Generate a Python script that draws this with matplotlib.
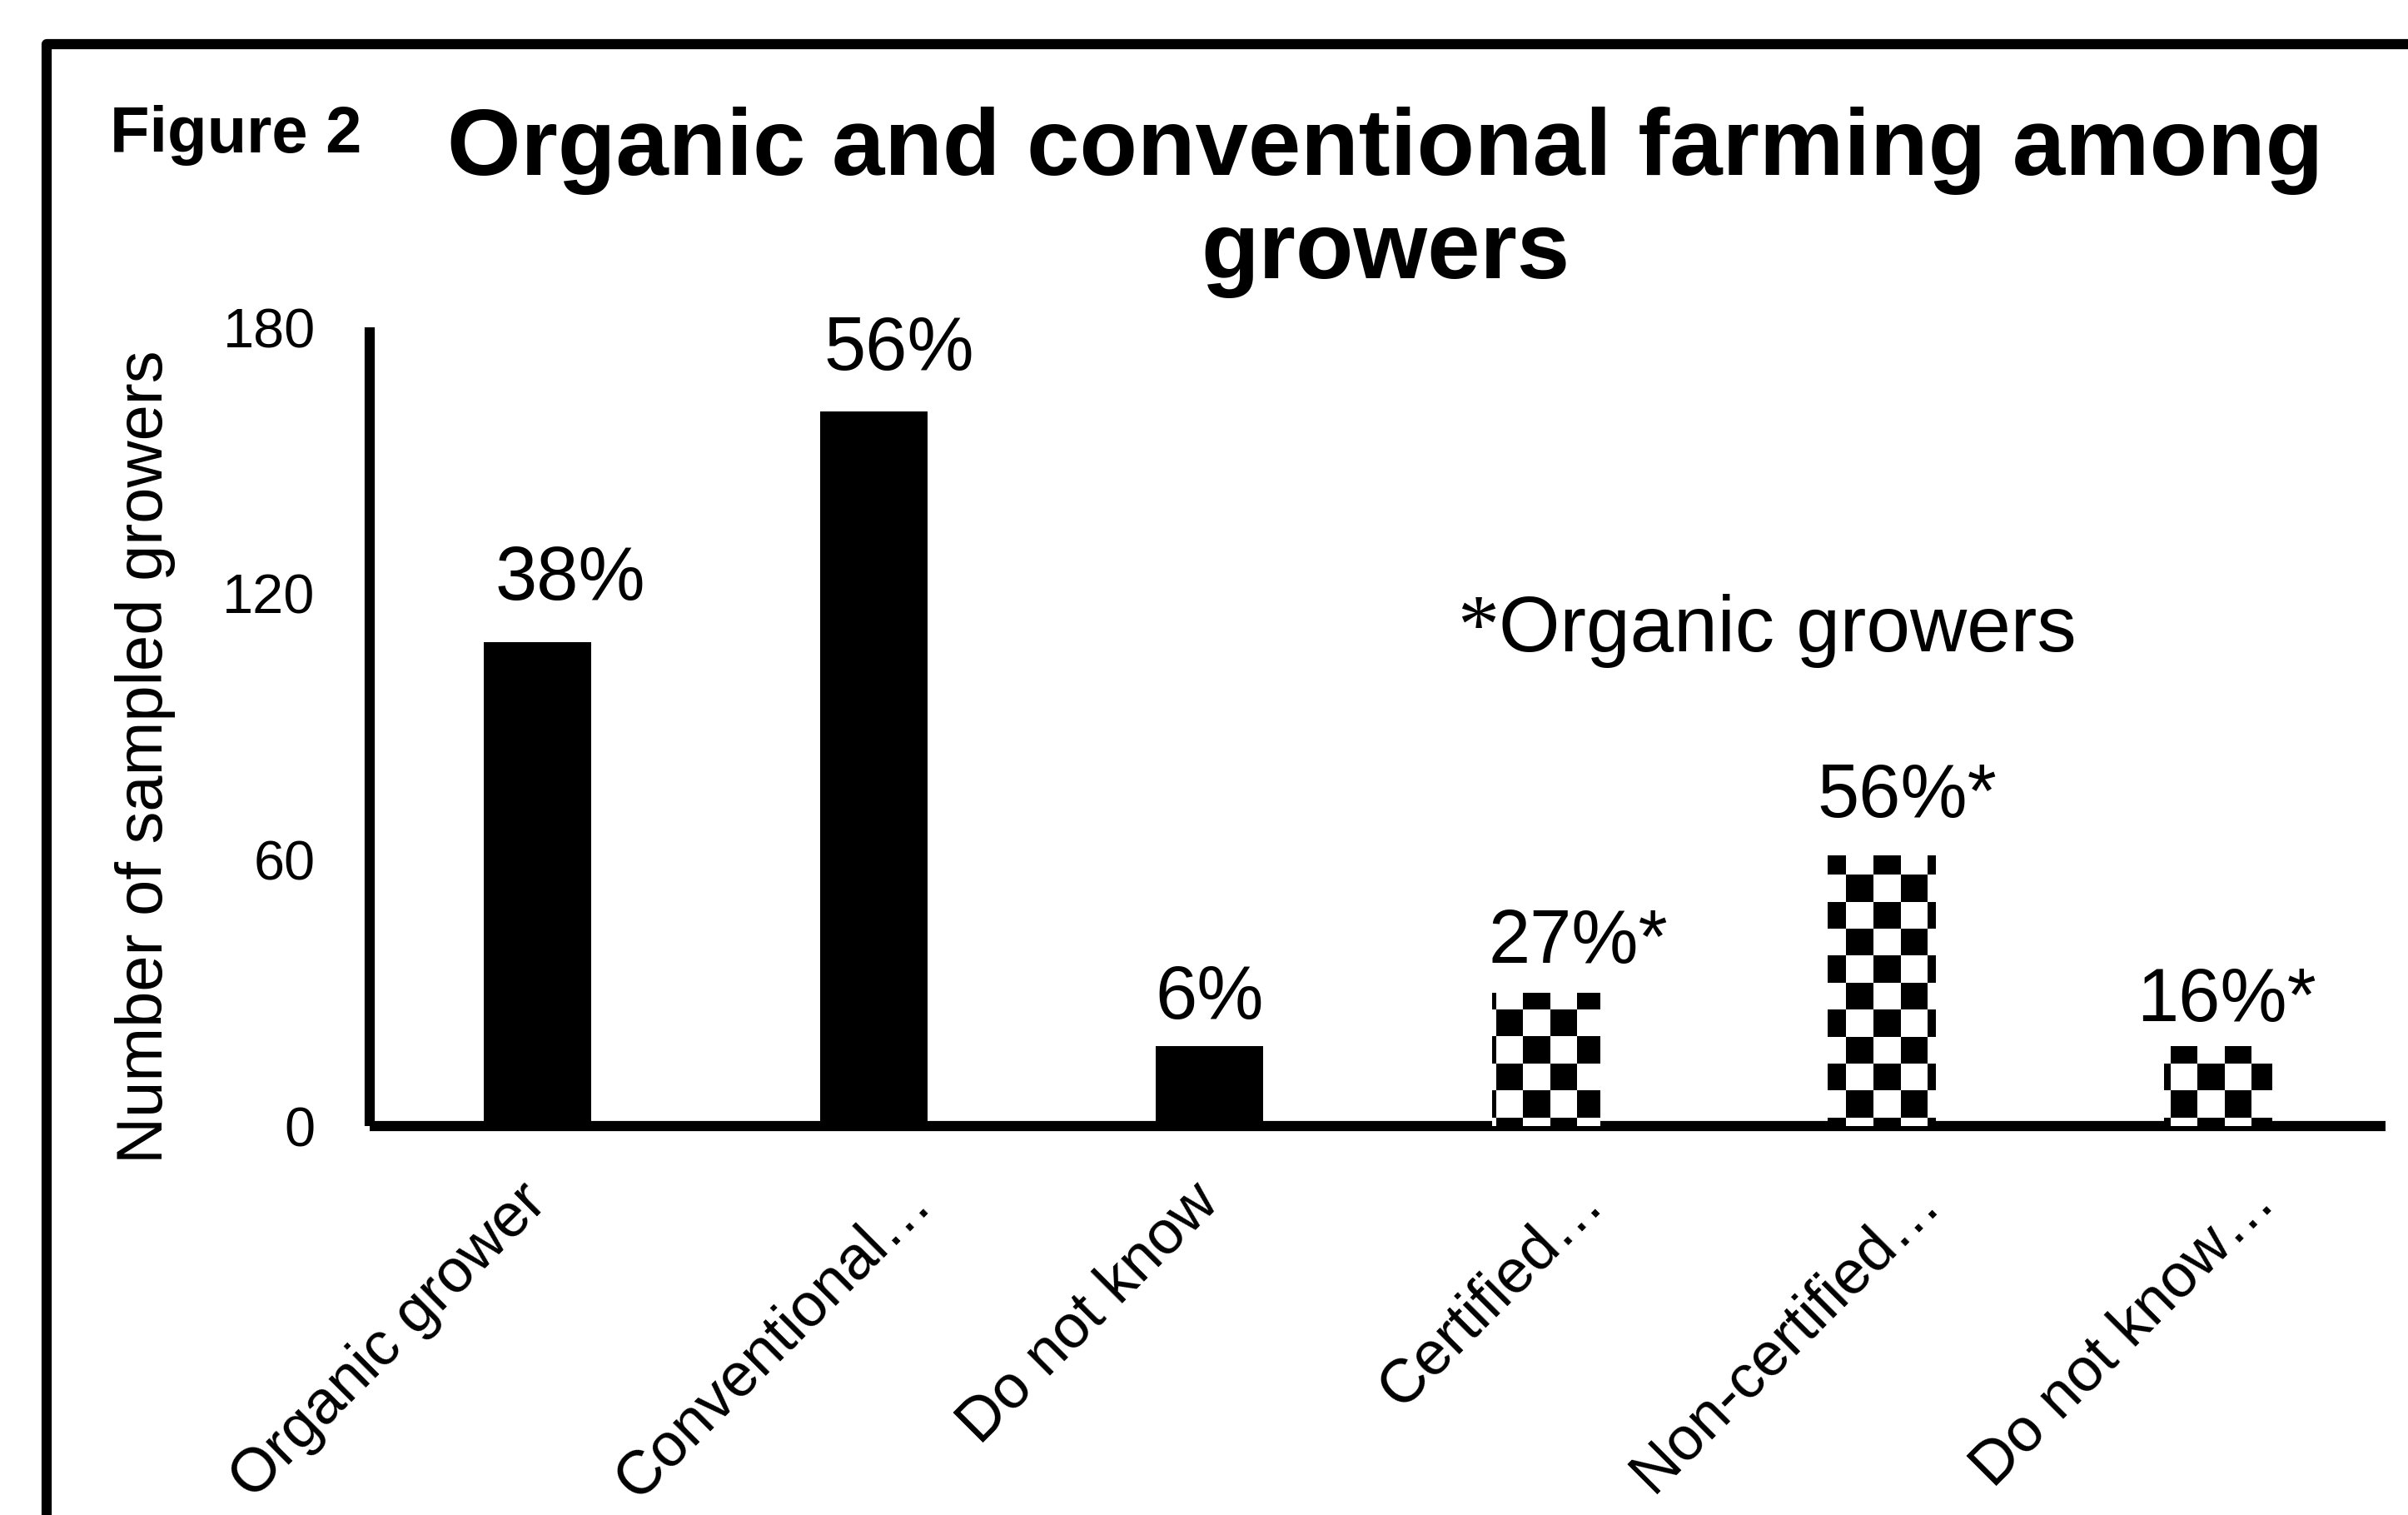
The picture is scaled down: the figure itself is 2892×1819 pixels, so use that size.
import numpy as np
import matplotlib.pyplot as plt
from matplotlib.patches import Rectangle

# survey counts per group
categories = ['Organic grower', 'Conventional…', 'Do not know',
              'Certified…', 'Non-certified…', 'Do not know…']
growers = [109, 161, 18, 30, 61, 18]
pct_labels = ['38%', '56%', '6%', '27%*', '56%*', '16%*']
checkered = [False, False, False, True, True, True]
yticks = [0, 60, 120, 180]

# nudges (points) for the percentage labels above the bars
label_dx = [14, 11, 0, 14, 11, 4]
label_dy = [18.5, 18, 12, 13, 16.5, 11]

plt.rcParams['font.family'] = ['Liberation Sans', 'DejaVu Sans']

W, H = 2892, 1819
fig = plt.figure(figsize=(W / 200, H / 200), dpi=200)
ax = fig.add_axes([444 / W, 1 - 1352 / H, (2865 - 444) / W, (1352 - 393) / H])

x = np.arange(len(categories))
bars = ax.bar(x, growers, width=0.32,
              color=['white' if c else 'black' for c in checkered],
              edgecolor='none', zorder=2)

# checkerboard fill for the organic sub-groups (one board, clipped to each bar)
cw, ch = 0.0803, 6.08
x0, y0 = 2.8515, 1.93
n_left = int(np.ceil((x0 + 0.5) / cw))
xs = x0 - n_left * cw
ys = y0 - ch
nx = int(np.ceil((5.5 - xs) / cw)) + 1
ny = int(np.ceil((180 - ys) / ch)) + 1
jj, ii = np.indices((ny, nx))
board = ((ii - n_left) + (jj - 1)) % 2
for bar, c in zip(bars, checkered):
    if c:
        im = ax.imshow(board, cmap='gray_r', vmin=0, vmax=1,
                       extent=[xs, xs + nx * cw, ys, ys + ny * ch],
                       origin='lower', interpolation='nearest',
                       aspect='auto', zorder=3)
        im.set_clip_path(bar)

ax.set_xlim(-0.5, 5.5)
ax.set_ylim(0, 180)
ax.set_yticks(yticks)
ax.set_xticks(x)
ax.set_xticklabels([])

# category labels, rotated; truncated ones let the ellipsis hang past the tick
for xi, cat in zip(x, categories):
    dx = 21 if cat.endswith('…') else 0
    ax.annotate(cat, (xi, 0), xycoords=('data', 'axes fraction'),
                xytext=(dx, -29), textcoords='offset points',
                rotation=45, rotation_mode='anchor',
                ha='right', va='center', fontsize=26.5)

for side in ['top', 'right']:
    ax.spines[side].set_visible(False)
for side in ['left', 'bottom']:
    ax.spines[side].set_linewidth(4.4)
    ax.spines[side].set_capstyle('butt')

ax.tick_params(axis='y', length=0, labelsize=24, pad=23.5)
ax.tick_params(axis='x', length=0)

for bar, t, dx, dy in zip(bars, pct_labels, label_dx, label_dy):
    ax.annotate(t, (bar.get_x() + bar.get_width() / 2, bar.get_height()),
                xytext=(dx, dy), textcoords='offset points',
                ha='center', va='baseline', fontsize=32.5)

fig.text(175 / W, 1 - 909 / H, 'Number of sampled growers', rotation=90,
         ha='center', va='center', fontsize=28)

fig.text(132 / W, 1 - 183 / H, 'Figure 2', fontsize=28, fontweight='bold',
         ha='left', va='baseline')
fig.text(1664 / W, 1 - 210 / H, 'Organic and conventional farming among',
         fontsize=41, fontweight='bold', ha='center', va='baseline')
fig.text(1664 / W, 1 - 334 / H, 'growers',
         fontsize=41, fontweight='bold', ha='center', va='baseline')

fig.text(1750 / W, 1 - 782 / H, '*', family=['Liberation Serif'],
         fontsize=36, ha='left', va='baseline')
fig.text(1800 / W, 1 - 782 / H, 'Organic growers', fontsize=34,
         ha='left', va='baseline')

# outer frame, open to the right and bottom
fig.add_artist(Rectangle((55.5 / W, -0.5), 2, 1 - 53.5 / H + 0.5,
                         transform=fig.transFigure, fill=False,
                         lw=4.4, ec='black', joinstyle='round'))

fig.savefig('out.png', dpi=200)
